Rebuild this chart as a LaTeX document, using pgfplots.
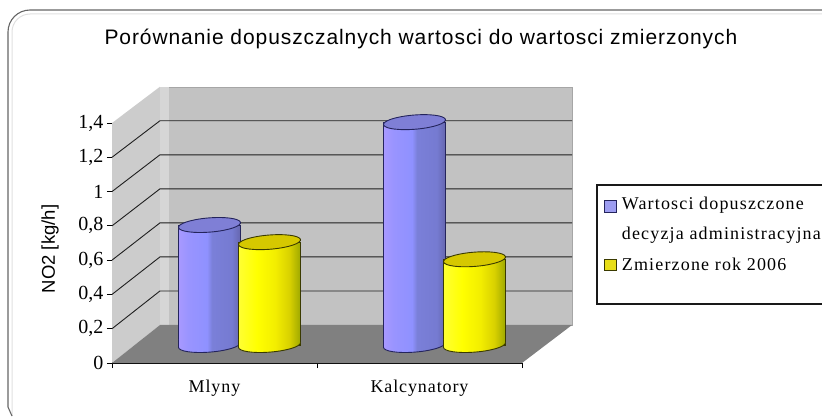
\documentclass[border=0pt]{standalone}
\usepackage{fontspec}
\setmainfont{Liberation Serif}
\newfontfamily\arialf[LetterSpace=4.4]{Liberation Sans}
\newfontfamily\arialp{Liberation Sans}
\newfontfamily\lsp[LetterSpace=6.5]{Liberation Serif}
\newfontfamily\lspx[LetterSpace=5]{Liberation Serif}
\usepackage{pgfplots}
\usepackage{pgfplotstable}
\pgfplotsset{compat=1.18}
\definecolor{navyedge}{HTML}{24245C}
\definecolor{yedge}{HTML}{3A3A00}
\definecolor{ptop}{HTML}{7F7FD6}
\definecolor{ytop}{HTML}{D6C800}
\pgfdeclarehorizontalshading{cylPurple}{100bp}{rgb(0bp)=(.66,.6,1); rgb(25bp)=(.66,.6,1); rgb(33bp)=(.6,.58,1); rgb(48bp)=(.56,.57,1); rgb(52bp)=(.48,.5,.85); rgb(68bp)=(.46,.48,.82); rgb(75bp)=(.4,.4,.68); rgb(100bp)=(.4,.4,.68)}
\pgfdeclarehorizontalshading{cylYellow}{100bp}{rgb(0bp)=(1,1,.2); rgb(25bp)=(1,1,.2); rgb(40bp)=(1,1,0); rgb(55bp)=(.95,.93,0); rgb(66bp)=(.85,.82,0); rgb(75bp)=(.62,.66,0); rgb(100bp)=(.62,.66,0)}
% cylinder ends: conjugate radii of the oblique circle
\pgfdeclareplotmark{cylend}{\pgfpathellipse{\pgfpointorigin}{\pgfqpoint{29.5pt}{0pt}}{\pgfqpoint{9.5pt}{7.5pt}}\pgfusepathqfillstroke}
\newcommand\lowerhalf{\pgfpathmoveto{\pgfqpoint{-1.274pt}{0.694pt}}\pgfpathlineto{\pgfpointpolar{197.85}{1pt}}\pgfpatharc{197.85}{377.85}{1pt}}
\pgfdeclareplotmark{cylbotP}{\pgftransformcm{29.5}{0}{9.5}{7.5}{\pgfpointorigin}\lowerhalf\pgfshadepath{cylPurple}{0}\lowerhalf\pgfusepathqstroke}
\pgfdeclareplotmark{cylbotY}{\pgftransformcm{29.5}{0}{9.5}{7.5}{\pgfpointorigin}\lowerhalf\pgfshadepath{cylYellow}{0}\lowerhalf\pgfusepathqstroke}
\pgfplotstableread{
x dop zm base
0.5 0.7 0.6 0
1.5 1.3 0.5 0
}\datatable
\begin{document}
\begin{tikzpicture}[x=1pt,y=1pt]
\useasboundingbox (0,0) rectangle (822,416);
% outer chart frame
\draw[color=black!12,line width=1pt] (12,0)--(12,384) arc[start angle=180,end angle=90,radius=18] -- (822,402);
\draw[color=black!60,line width=1.1pt] (12,0)--(8,9)--(8,384) arc[start angle=180,end angle=90,radius=22] -- (822,406);
% legend frame
\draw[color=black!90,line width=1.2pt] (597,231) rectangle (830,112);
\begin{axis}[
  at={(112pt,53pt)},anchor=south west,
  scale only axis,width=410pt,height=240pt,
  xmin=0,xmax=2,ymin=0,ymax=1.4,
  clip=false,
  axis x line=bottom,axis y line=left,
  axis line style={-,color=black,line width=1pt},
  tick align=outside,
  xtick={0.5,1.5},xticklabels={Mlyny,Kalcynatory},
  minor xtick={0,1,2},
  major x tick style={draw=none},
  minor tick length=5pt,major tick length=5pt,
  tick style={color=black,line width=.8pt},
  ytick={0,0.2,0.4,0.6,0.8,1,1.2,1.4},
  /pgf/number format/use comma,
  /pgf/number format/assume math mode=true,
  yticklabel style={font=\fontsize{20}{20}\selectfont,/pgf/number format/fixed,inner sep=3.5pt},
  xticklabel style={font=\fontsize{18}{20}\lspx,yshift=-8pt},
  ylabel={NO2 [kg/h]},
  every axis y label/.style={at={(axis cs:-0.302,0.665)},rotate=90,anchor=center,font=\fontsize{18.5}{20}\arialp},
  title={Porównanie dopuszczalnych wartosci do wartosci zmierzonych},
  every axis title/.style={at={(axis cs:1.507,1.888)},anchor=center,font=\fontsize{21}{24}\arialf},
  legend style={at={(axis cs:2.4,0.98)},anchor=north west,draw=none,fill=none,
     cells={align=left,anchor=west},font=\fontsize{18}{26}\lsp,row sep=13pt,inner sep=0pt},
]
% walls and floor
\addplot[fill=black!24,draw=black!35,forget plot] coordinates {(0.234,0.2217)(2.244,0.2217)(2.244,1.6116)(0.234,1.6116)} -- cycle;
\addplot[fill=black!16,draw=none,forget plot] coordinates {(0.234,0.2217)(0.278,0.2217)(0.278,1.6116)(0.234,1.6116)} -- cycle;
\addplot[fill=black!20,draw=none,forget plot] coordinates {(0,0)(0.234,0.2217)(0.234,1.6116)(0,1.4)} -- cycle;
\addplot[fill=black!50,draw=none,forget plot] coordinates {(0,0)(2,0)(2.244,0.2217)(0.234,0.2217)} -- cycle;
% gridlines
\addplot[color=black!88,line width=.9pt,forget plot] coordinates {(0,0.2)(0.234,0.4203)(2.244,0.4203)};
\addplot[color=black!88,line width=.9pt,forget plot] coordinates {(0,0.4)(0.234,0.6188)(2.244,0.6188)};
\addplot[color=black!88,line width=.9pt,forget plot] coordinates {(0,0.6)(0.234,0.8174)(2.244,0.8174)};
\addplot[color=black!88,line width=.9pt,forget plot] coordinates {(0,0.8)(0.234,1.0159)(2.244,1.0159)};
\addplot[color=black!88,line width=.9pt,forget plot] coordinates {(0,1.0)(0.234,1.2145)(2.244,1.2145)};
\addplot[color=black!88,line width=.9pt,forget plot] coordinates {(0,1.2)(0.234,1.4131)(2.244,1.4131)};
% purple cylinders
\addplot[ybar,bar width=62pt,bar shift=-5pt,yshift=18pt,shade,shading=cylPurple,draw=navyedge,line width=.9pt,forget plot] coordinates {(0.5,0.7)};
\addplot[ybar,bar width=62pt,bar shift=-5pt,yshift=18pt,shade,shading=cylPurple,draw=navyedge,line width=.9pt,forget plot] coordinates {(1.5,1.3)};
\addplot[only marks,mark=cylbotP,draw=navyedge,line width=.9pt,xshift=-5pt,yshift=18pt,forget plot] table[x=x,y=base] {\datatable};
\addplot[only marks,mark=cylend,mark options={fill=ptop,draw=navyedge,line width=.9pt},xshift=-5pt,yshift=18pt,forget plot] table[x=x,y=dop] {\datatable};
% yellow cylinders
\addplot[ybar,bar width=62pt,bar shift=55pt,yshift=18pt,shade,shading=cylYellow,draw=yedge,line width=.9pt,forget plot] coordinates {(0.5,0.6)};
\addplot[ybar,bar width=62pt,bar shift=55pt,yshift=18pt,shade,shading=cylYellow,draw=yedge,line width=.9pt,forget plot] coordinates {(1.5,0.5)};
\addplot[only marks,mark=cylbotY,draw=yedge,line width=.9pt,xshift=55pt,yshift=18pt,forget plot] table[x=x,y=base] {\datatable};
\addplot[only marks,mark=cylend,mark options={fill=ytop,draw=yedge,line width=.9pt},xshift=55pt,yshift=18pt,forget plot] table[x=x,y=zm] {\datatable};
\addlegendimage{legend image code/.code={\draw[fill=ptop!60!blue!55!white,draw=navyedge,line width=.9pt] (0pt,7pt) rectangle (12pt,19pt);\path (15pt,0pt);}}
\addlegendentry{Wartosci dopuszczone\\[4pt]decyzja administracyjna}
\addlegendimage{legend image code/.code={\draw[fill=yellow!90!black,draw=yedge,line width=.9pt] (0pt,-5pt) rectangle (12pt,6pt);\path (15pt,0pt);}}
\addlegendentry{Zmierzone rok 2006}
\end{axis}
\end{tikzpicture}
\end{document}
